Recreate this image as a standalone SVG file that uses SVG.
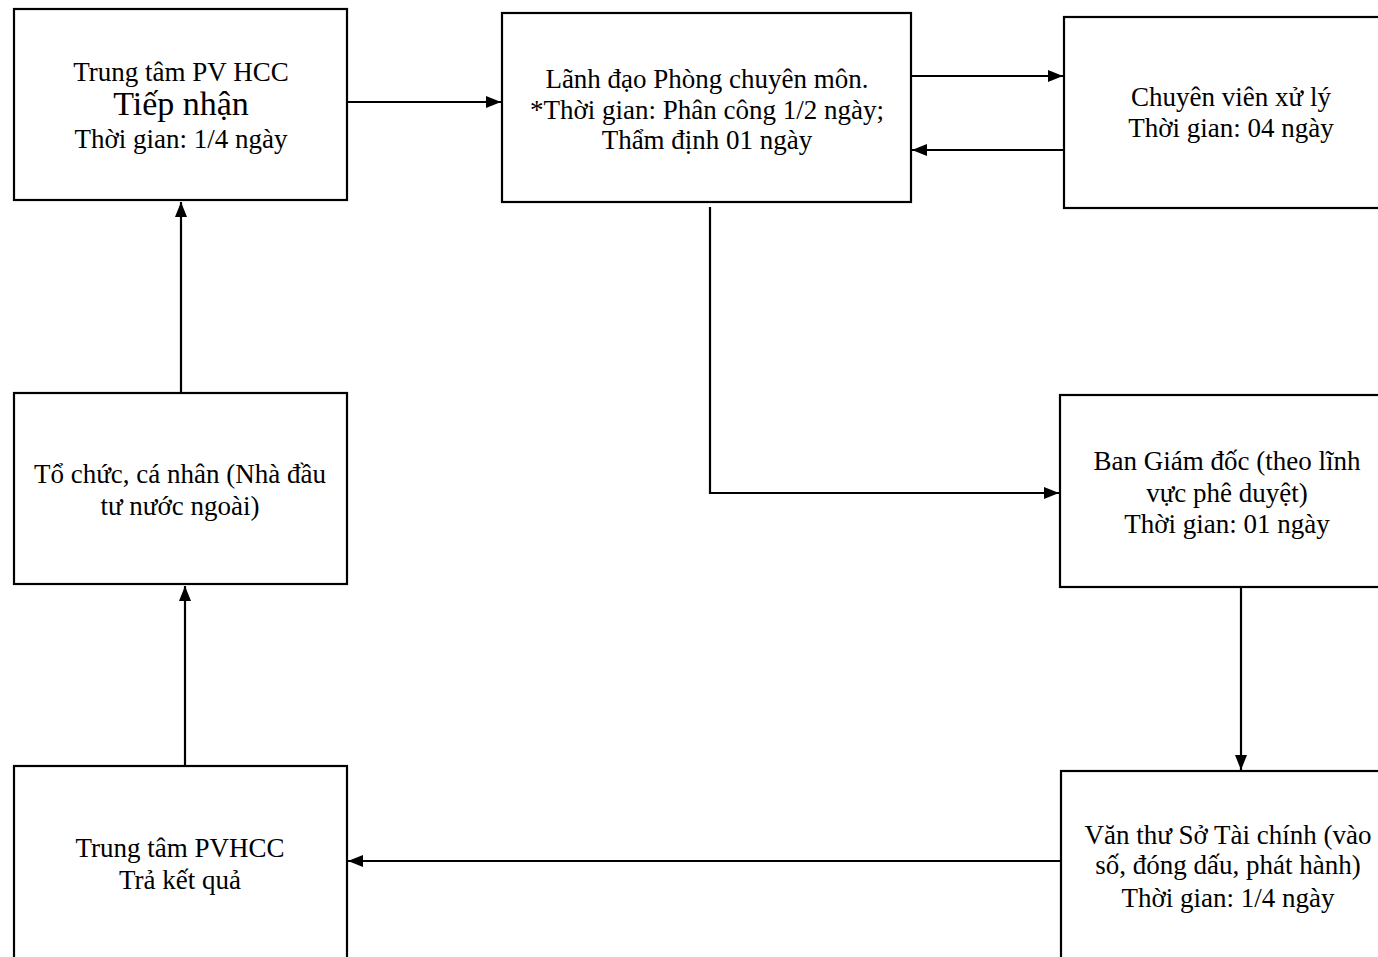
<svg xmlns="http://www.w3.org/2000/svg" width="1378" height="957" viewBox="0 0 1378 957">
<style>
.box{fill:#fff;stroke:#000;stroke-width:2.2}
.t{font-family:"Liberation Serif","Times New Roman",serif;font-size:27px;fill:#000;text-anchor:middle}
.big{font-size:34px}
.c{fill:none;stroke:#000;stroke-width:2.2}
</style>
<defs>
<marker id="ah" viewBox="0 0 15 12" refX="15" refY="6" markerWidth="15" markerHeight="12" markerUnits="userSpaceOnUse" orient="auto">
<path d="M0,0 L15,6 L0,12 Z" fill="#000"/>
</marker>
</defs>
<rect width="1378" height="957" fill="#fff"/>
<g id="connectors">
<line class="c" x1="347" y1="102" x2="501" y2="102" marker-end="url(#ah)"/>
<line class="c" x1="911" y1="76" x2="1063" y2="76" marker-end="url(#ah)"/>
<line class="c" x1="1064" y1="150" x2="912" y2="150" marker-end="url(#ah)"/>
<line class="c" x1="181" y1="393" x2="181" y2="202" marker-end="url(#ah)"/>
<line class="c" x1="185" y1="766" x2="185" y2="586" marker-end="url(#ah)"/>
<polyline class="c" points="710,207 710,493 1059,493" marker-end="url(#ah)"/>
<line class="c" x1="1241" y1="587" x2="1241" y2="770" marker-end="url(#ah)"/>
<line class="c" x1="1061" y1="861" x2="348" y2="861" marker-end="url(#ah)"/>
</g>
<g id="n1">
<rect class="box" x="14" y="9" width="333" height="191"/>
<text class="t" x="181" y="81">Trung tâm PV HCC</text>
<text class="t big" x="181" y="115">Tiếp nhận</text>
<text class="t" x="181" y="148">Thời gian: 1/4 ngày</text>
</g>
<g id="n2">
<rect class="box" x="502" y="13" width="409" height="189"/>
<text class="t" x="707" y="88">Lãnh đạo Phòng chuyên môn.</text>
<text class="t" x="707" y="119">*Thời gian: Phân công 1/2 ngày;</text>
<text class="t" x="707" y="149">Thẩm định 01 ngày</text>
</g>
<g id="n3">
<rect class="box" x="1064" y="17" width="330" height="191"/>
<text class="t" x="1231" y="106">Chuyên viên xử lý</text>
<text class="t" x="1231" y="137">Thời gian: 04 ngày</text>
</g>
<g id="n4">
<rect class="box" x="14" y="393" width="333" height="191"/>
<text class="t" x="180" y="483">Tổ chức, cá nhân (Nhà đầu</text>
<text class="t" x="180" y="515">tư nước ngoài)</text>
</g>
<g id="n5">
<rect class="box" x="1060" y="395" width="334" height="192"/>
<text class="t" x="1227" y="470">Ban Giám đốc (theo lĩnh</text>
<text class="t" x="1227" y="502">vực phê duyệt)</text>
<text class="t" x="1227" y="533">Thời gian: 01 ngày</text>
</g>
<g id="n6">
<rect class="box" x="14" y="766" width="333" height="200"/>
<text class="t" x="180" y="857">Trung tâm PVHCC</text>
<text class="t" x="180" y="889">Trả kết quả</text>
</g>
<g id="n7">
<rect class="box" x="1061" y="771" width="333" height="200"/>
<text class="t" x="1228" y="844">Văn thư Sở Tài chính (vào</text>
<text class="t" x="1228" y="874">số, đóng dấu, phát hành)</text>
<text class="t" x="1228" y="907">Thời gian: 1/4 ngày</text>
</g>
</svg>
